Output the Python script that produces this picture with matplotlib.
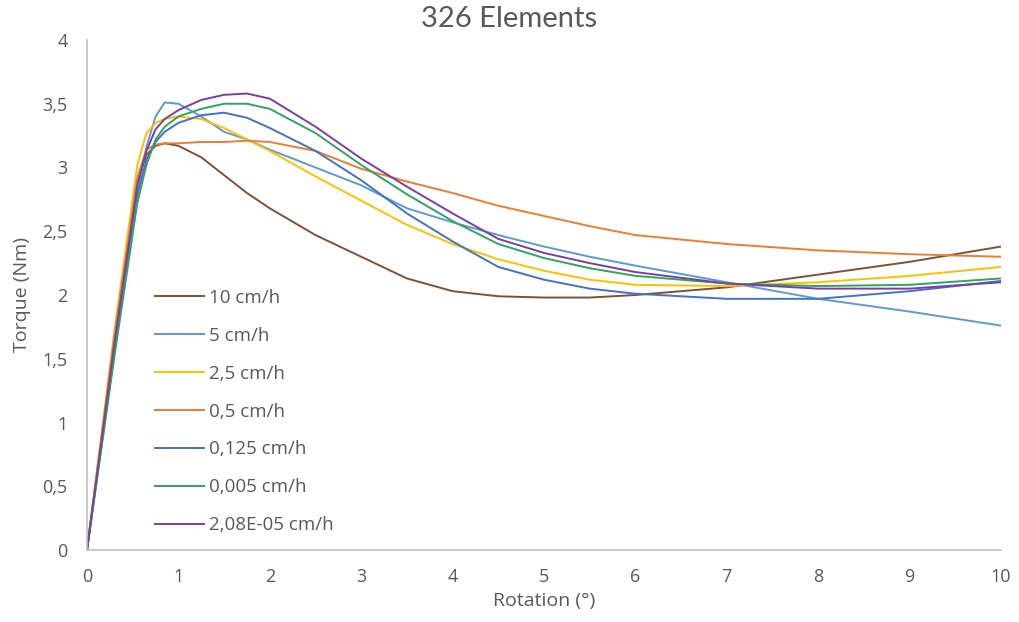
import matplotlib
matplotlib.use("Agg")
import matplotlib.pyplot as plt

# Rotation angles (degrees) shared by every series
rotation = [0, 0.3, 0.55, 0.65, 0.75, 0.85, 1.0, 1.25, 1.5, 1.75, 2.0, 2.5,
            3.0, 3.5, 4.0, 4.5, 5.0, 5.5, 6.0, 7.0, 8.0, 9.0, 10.0]

# Torque (Nm) for each loading rate
torque_10 = [0, 1.65, 2.88, 3.10, 3.17, 3.19, 3.17, 3.08, 2.94, 2.80, 2.68, 2.47,
             2.30, 2.13, 2.03, 1.99, 1.98, 1.98, 2.00, 2.06, 2.16, 2.26, 2.38]
torque_5 = [0, 1.62, 2.82, 3.16, 3.40, 3.51, 3.50, 3.40, 3.28, 3.22, 3.14, 3.00,
            2.86, 2.68, 2.57, 2.47, 2.38, 2.30, 2.23, 2.10, 1.97, 1.87, 1.76]
torque_2_5 = [0, 1.72, 3.02, 3.27, 3.35, 3.38, 3.40, 3.38, 3.31, 3.22, 3.13, 2.93,
              2.74, 2.55, 2.40, 2.28, 2.19, 2.12, 2.08, 2.07, 2.10, 2.15, 2.22]
torque_0_5 = [0, 1.68, 2.92, 3.14, 3.18, 3.19, 3.19, 3.20, 3.20, 3.21, 3.20, 3.13,
              2.99, 2.89, 2.80, 2.70, 2.62, 2.54, 2.47, 2.40, 2.35, 2.32, 2.30]
torque_0_125 = [0, 1.55, 2.78, 3.06, 3.20, 3.28, 3.35, 3.41, 3.43, 3.39, 3.31, 3.13,
                2.90, 2.64, 2.42, 2.22, 2.12, 2.05, 2.01, 1.97, 1.97, 2.03, 2.11]
torque_0_005 = [0, 1.52, 2.72, 3.02, 3.22, 3.32, 3.40, 3.46, 3.50, 3.50, 3.46, 3.27,
                3.02, 2.79, 2.58, 2.40, 2.29, 2.21, 2.15, 2.09, 2.07, 2.08, 2.13]
torque_2e5 = [0, 1.62, 2.86, 3.13, 3.30, 3.38, 3.45, 3.53, 3.57, 3.58, 3.54, 3.32,
              3.07, 2.85, 2.64, 2.44, 2.33, 2.25, 2.18, 2.09, 2.05, 2.05, 2.10]

labels = ["10 cm/h", "5 cm/h", "2,5 cm/h", "0,5 cm/h",
          "0,125 cm/h", "0,005 cm/h", "2,08E-05 cm/h"]
series = [torque_10, torque_5, torque_2_5, torque_0_5,
          torque_0_125, torque_0_005, torque_2e5]
colors = ["#7F5233", "#5B9BD5", "#FFC000", "#ED7D31",
          "#4472C4", "#2FA55E", "#7A3FA6"]

x_ticks = list(range(0, 11))
y_ticks = [0, 0.5, 1, 1.5, 2, 2.5, 3, 3.5, 4]
y_tick_labels = ["0", "0,5", "1", "1,5", "2", "2,5", "3", "3,5", "4"]

plt.rcParams["font.family"] = ["Open Sans", "DejaVu Sans"]
text_color = "#595959"

fig = plt.figure(figsize=(10.19, 6.22), dpi=100)
ax = fig.add_axes([87 / 1019, 1 - 550 / 622, (1001 - 87) / 1019, (550 - 40) / 622])

for y, lab, c in zip(series, labels, colors):
    ax.plot(rotation, y, color=c, lw=1.4, label=lab, solid_joinstyle="round")

ax.set_xlim(0, 10)
ax.set_ylim(0, 4)
ax.set_xticks(x_ticks)
ax.set_yticks(y_ticks)
ax.set_yticklabels(y_tick_labels)
ax.tick_params(length=0, labelsize=13, colors=text_color)
ax.tick_params(axis="x", pad=13)
ax.tick_params(axis="y", pad=14)
for s in ["top", "right"]:
    ax.spines[s].set_visible(False)
for s in ["left", "bottom"]:
    ax.spines[s].set_color("#BFBFBF")
    ax.spines[s].set_linewidth(1.2)

ax.set_xlabel("Rotation (°)", fontsize=14, color=text_color, labelpad=4)
ax.set_ylabel("Torque (Nm)", fontsize=14, color=text_color, labelpad=8)
fig.text(0.5, 1 - 19 / 622, "326 Elements", ha="center", va="center",
         fontsize=21, color=text_color, family=["Lato", "DejaVu Sans"])

leg = ax.legend(loc="upper left", bbox_to_anchor=(0.0744, 0.512), frameon=False,
                fontsize=13.5, handlelength=2.6, handletextpad=0.3,
                labelspacing=1.06, borderpad=0, borderaxespad=0)
for t in leg.get_texts():
    t.set_color(text_color)

fig.savefig("out.png", dpi=100)
